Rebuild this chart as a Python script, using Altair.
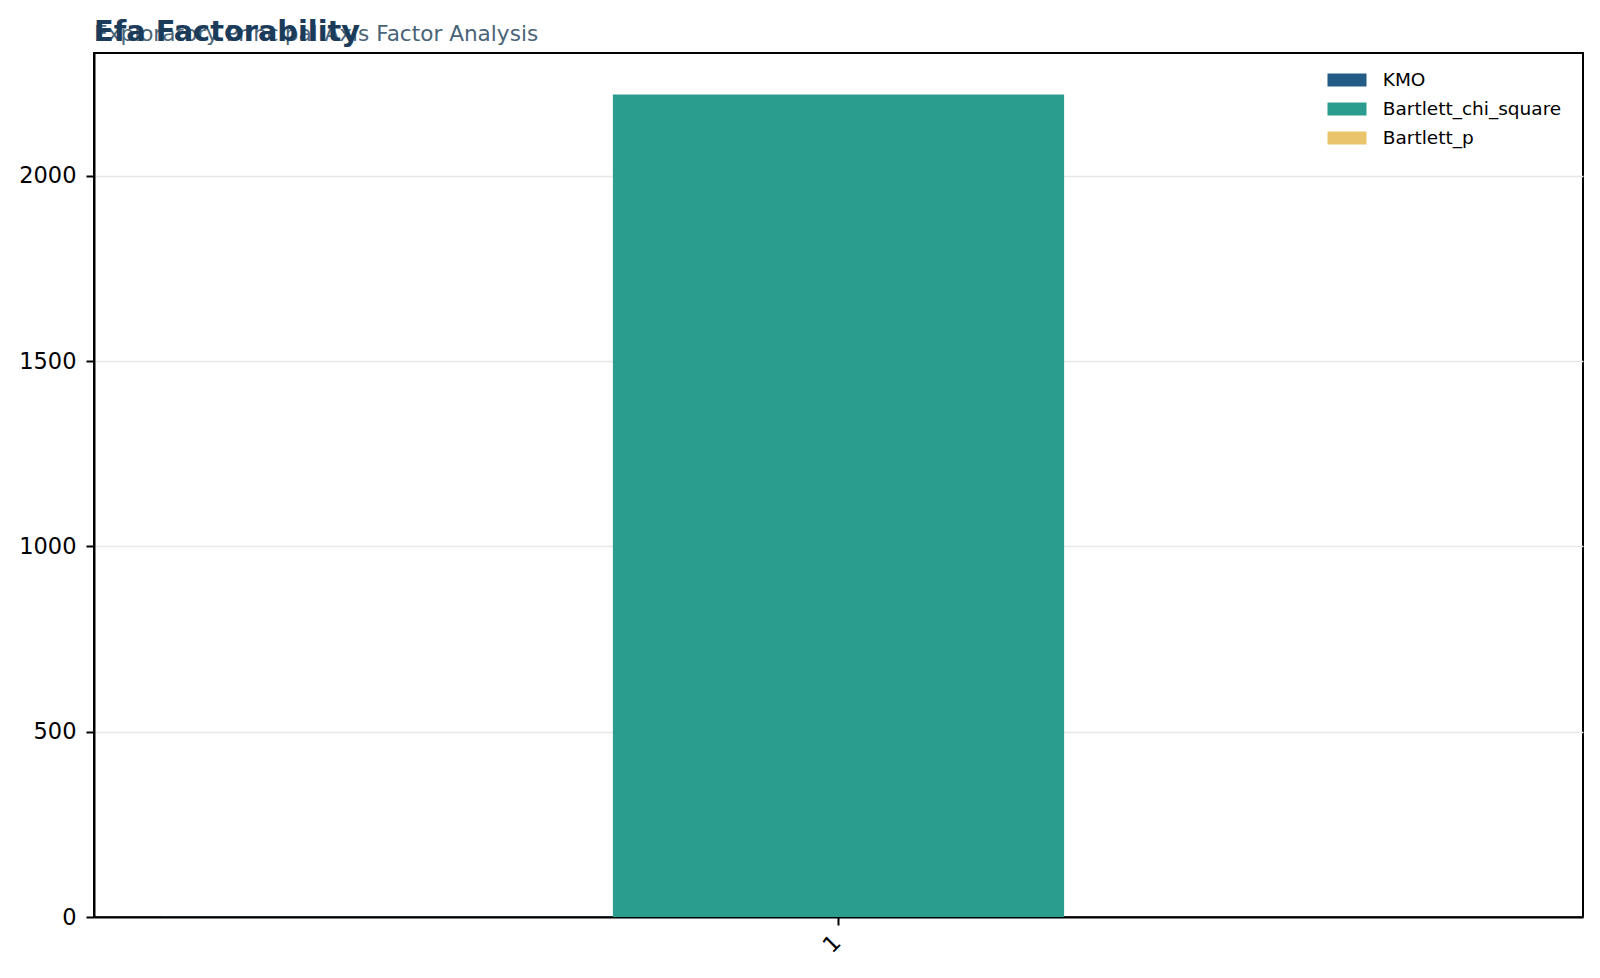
import altair as alt
import pandas as pd

# ---- data ----
categories = ["1"]
series = ["KMO", "Bartlett_chi_square", "Bartlett_p"]
values = [0.82, 2219.0, 0.0]
colors = ["#215b86", "#2a9d8f", "#e9c46a"]
y_ticks = [0, 500, 1000, 1500, 2000]
y_max = 2331
title_text = "Efa Factorability"
subtitle_text = "Exploratory Principal Axis Factor Analysis"

df = pd.DataFrame({
    "factor": [categories[0]] * len(series),
    "metric": series,
    "value": values,
})

FONT = "DejaVu Sans"
W, H = 1489, 864

bars = alt.Chart(df).mark_bar().encode(
    x=alt.X(
        "factor:N",
        scale=alt.Scale(paddingInner=0, paddingOuter=0.05),
        axis=alt.Axis(
            title=None, labelAngle=315, labelFontSize=22.5, labelFont=FONT,
            labelColor="black", tickColor="black", tickSize=8, tickWidth=2,
            domainColor="black", domainWidth=2, labelPadding=6, grid=False,
            labelOffset=-9,
        ),
    ),
    xOffset=alt.XOffset(
        "metric:N", sort=series,
        scale=alt.Scale(domain=series, paddingInner=0, paddingOuter=0),
    ),
    y=alt.Y(
        "value:Q",
        scale=alt.Scale(domain=[0, y_max], nice=False, zero=True),
        axis=alt.Axis(
            title=None, values=y_ticks, format="d", labelFontSize=22.5,
            labelFont=FONT, labelColor="black", tickColor="black",
            tickSize=8, tickWidth=2, domainColor="black", domainWidth=2,
            labelPadding=10, grid=True, gridColor="#e8e8e8", gridWidth=1.5,
        ),
    ),
    color=alt.Color(
        "metric:N", sort=series,
        scale=alt.Scale(domain=series, range=colors),
        legend=alt.Legend(
            title=None, orient="none", legendX=1243, legendY=17,
            symbolType="M-2,-0.66L2,-0.66L2,0.66L-2,0.66Z",
            symbolSize=380, symbolStrokeWidth=0, symbolOpacity=1,
            labelFontSize=18.5, labelFont=FONT, labelColor="black",
            labelOffset=25.75, rowPadding=9, padding=0, labelLimit=0,
        ),
    ),
)

sub = alt.Chart(pd.DataFrame({"t": [subtitle_text]})).mark_text(
    align="left", baseline="alphabetic", font=FONT, fontSize=21.6,
    color="#4a6478",
).encode(text="t:N", x=alt.value(0), y=alt.value(-12))

ttl = alt.Chart(pd.DataFrame({"t": [title_text]})).mark_text(
    align="left", baseline="alphabetic", font=FONT, fontSize=28.8,
    fontWeight="bold", color="#1b3b5a",
).encode(text="t:N", x=alt.value(0), y=alt.value(-12))

chart = alt.layer(bars, sub, ttl).properties(
    width=W, height=H,
    autosize=alt.AutoSizeParams(type="none"),
    padding={"left": 86, "top": 45, "right": 9, "bottom": 53},
    background="white",
).configure_view(stroke="black", strokeWidth=2)

chart.save("out.html", embed_options={"renderer": "svg", "actions": False})
